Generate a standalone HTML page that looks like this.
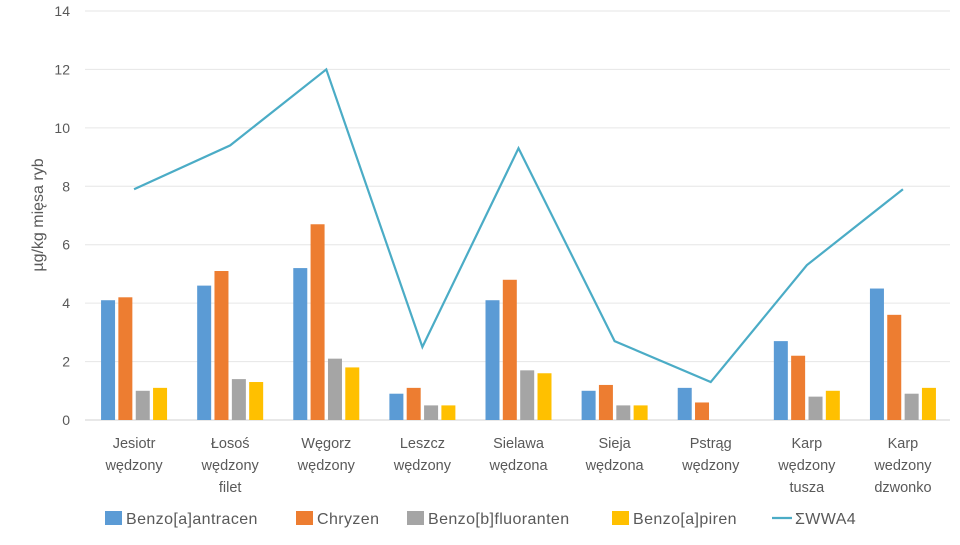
<!DOCTYPE html>
<html><head><meta charset="utf-8"><style>
body{margin:0;background:#fff}
svg text{font-family:"Liberation Sans",sans-serif;fill:#595959}
</style></head><body>
<svg width="960" height="540" viewBox="0 0 960 540">
<g id="grid"></g><g id="bars"></g><g id="line"></g><g id="labels"></g><g id="legend"></g>
<text transform="translate(43,215) rotate(-90)" text-anchor="middle" font-size="16">µg/kg mięsa ryb</text>
</svg>
<script>
const categories=[["Jesiotr","wędzony"],["Łosoś","wędzony","filet"],["Węgorz","wędzony"],["Leszcz","wędzony"],["Sielawa","wędzona"],["Sieja","wędzona"],["Pstrąg","wędzony"],["Karp","wędzony","tusza"],["Karp","wedzony","dzwonko"]];
const baa=[4.1,4.6,5.2,0.9,4.1,1.0,1.1,2.7,4.5];
const chr=[4.2,5.1,6.7,1.1,4.8,1.2,0.6,2.2,3.6];
const bbf=[1.0,1.4,2.1,0.5,1.7,0.5,0,0.8,0.9];
const bap=[1.1,1.3,1.8,0.5,1.6,0.5,0,1.0,1.1];
const wwa4=[7.9,9.4,12.0,2.5,9.3,2.7,1.3,5.3,7.9];
const yTicks=[0,2,4,6,8,10,12,14];
const seriesNames=["Benzo[a]antracen","Chryzen","Benzo[b]fluoranten","Benzo[a]piren"];
const NS="http://www.w3.org/2000/svg";
const X0=85,X1=950,Y0=420,Y14=11;
const band=(X1-X0)/categories.length;
const y=v=>Y0-(Y0-Y14)*v/14;
const xc=i=>X0+band*(i+0.5)+1;
function mk(t,a,p,txt){const e=document.createElementNS(NS,t);for(const k in a)e.setAttribute(k,a[k]);if(txt!==undefined)e.textContent=txt;document.getElementById(p).appendChild(e);return e;}
yTicks.forEach(t=>{
const l=mk('line',{x1:X0,x2:X1,y1:y(t),y2:y(t),stroke:t===0?'#d0d0d0':'#e6e6e6','stroke-width':1},'grid');


const tx=mk('text',{x:70,y:y(t)+5,'text-anchor':'end','font-size':14},'labels',String(t));


});
const series=[baa,chr,bbf,bap],colors=['#5B9BD5','#ED7D31','#A5A5A5','#FFC000'];
const offs=[-26,-8.7,8.7,26],bw=14;
series.forEach((s,si)=>s.forEach((v,i)=>{
const r=mk('rect',{x:xc(i)+offs[si]-bw/2,y:y(v),width:bw,height:Y0-y(v),fill:colors[si]},'bars');


}));
const pl=mk('polyline',{points:wwa4.map((v,i)=>xc(i)+','+y(v)).join(' '),fill:'none',stroke:'#4BACC6','stroke-width':2.2},'line');


categories.forEach((c,i)=>c.forEach((w,j)=>{
const t=mk('text',{x:xc(i),y:448+j*22,'text-anchor':'middle','font-size':14.5},'labels',w);


}));
const lx=[105,296,407,612];
seriesNames.forEach((n,i)=>{
const r=mk('rect',{x:lx[i],y:511,width:17,height:14,fill:colors[i]},'legend');


const t=mk('text',{x:lx[i]+21,y:524,'font-size':16,'letter-spacing':0.4},'legend',n);


});
const ll=mk('line',{x1:772,x2:792,y1:518,y2:518,stroke:'#4BACC6','stroke-width':2.2},'legend');


const lt=mk('text',{x:795,y:524,'font-size':16,'letter-spacing':0.4},'legend','ΣWWA4');


</script>
</body></html>
